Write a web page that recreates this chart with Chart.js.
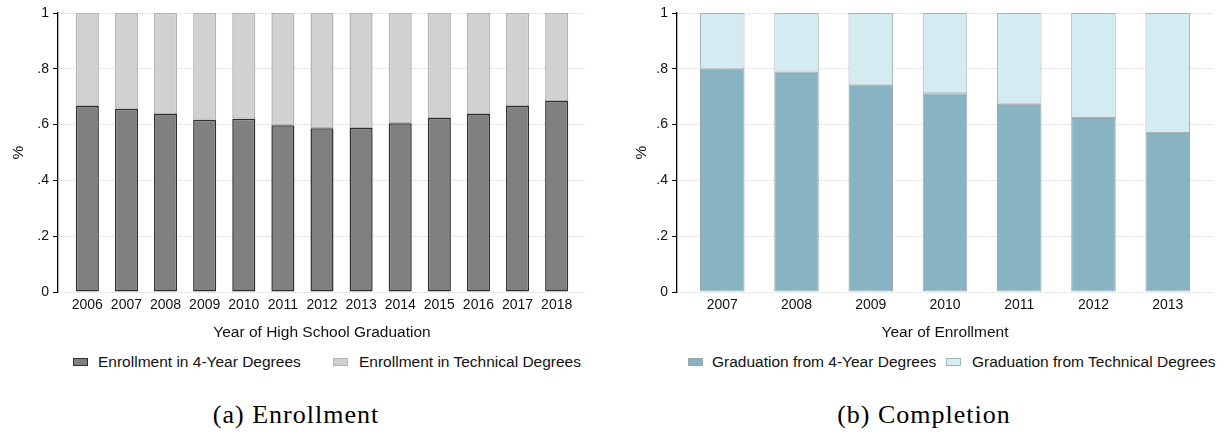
<!DOCTYPE html>
<html>
<head>
<meta charset="utf-8">
<script src="https://cdn.jsdelivr.net/npm/chart.js@4.4.1/dist/chart.umd.min.js"></script>
<style>
  html, body { margin: 0; padding: 0; background: #fff; }
  body { width: 1224px; height: 441px; position: relative; overflow: hidden; font-family: "Liberation Sans", Arial, sans-serif; }
  .panel { position: absolute; top: 0; }
  .legend-box { position: absolute; width: 13px; height: 6px; border: 1px solid; }
  .legend-text { position: absolute; font-size: 15.5px; line-height: 20px; color: #111; white-space: nowrap; }
  .caption { position: absolute; top: 400px; width: 300px; text-align: center; font-family: "Liberation Serif", serif; font-size: 26px; letter-spacing: 1px; color: #000; }
</style>
</head>
<body>
<canvas id="enroll-chart" class="panel" width="612" height="345" style="left:0"></canvas>
<canvas id="compl-chart" class="panel" width="612" height="345" style="left:612px"></canvas>
<div id="enroll-legend"></div>
<div id="compl-legend"></div>
<div class="caption" style="left:146px">(a) Enrollment</div>
<div class="caption" style="left:774px">(b) Completion</div>
<script>
const enrollYears = [2006, 2007, 2008, 2009, 2010, 2011, 2012, 2013, 2014, 2015, 2016, 2017, 2018];
const enroll4yr = [0.667, 0.657, 0.638, 0.617, 0.621, 0.598, 0.587, 0.588, 0.605, 0.624, 0.638, 0.667, 0.685];
const enrollTech = [0.333, 0.343, 0.362, 0.383, 0.379, 0.402, 0.413, 0.412, 0.395, 0.376, 0.362, 0.333, 0.315];
const enrollLabels = ["Enrollment in 4-Year Degrees", "Enrollment in Technical Degrees"];

const complYears = [2007, 2008, 2009, 2010, 2011, 2012, 2013];
const compl4yr = [0.800, 0.790, 0.743, 0.712, 0.675, 0.624, 0.570];
const complTech = [0.200, 0.210, 0.257, 0.288, 0.325, 0.376, 0.430];
const complLabels = ["Graduation from 4-Year Degrees", "Graduation from Technical Degrees"];

const yTickLabels = ["0", ".2", ".4", ".6", ".8", "1"];

Chart.defaults.font.family = '"Liberation Sans", Arial, sans-serif';
Chart.defaults.color = "#111";

function buildChart(id, years, series, cfg) {
  const toPoints = vals => years.map((yr, i) => ({ x: yr, y: vals[i] }));
  return new Chart(document.getElementById(id), {
    type: "bar",
    data: {
      datasets: series.map(s => ({
        label: s.label,
        data: toPoints(s.values),
        backgroundColor: s.fill,
        borderColor: s.border,
        borderWidth: s.borderWidth,
        borderSkipped: false,
        categoryPercentage: 1,
        barPercentage: cfg.barPct,
      })),
    },
    options: {
      responsive: false,
      animation: false,
      layout: { padding: { top: 13, right: cfg.padRight, bottom: 0, left: 0 } },
      plugins: { legend: { display: false }, tooltip: { enabled: false } },
      scales: {
        x: {
          type: "linear",
          stacked: true,
          offset: false,
          min: years[0] - cfg.edge,
          max: years[years.length - 1] + cfg.edge,
          afterFit: s => { s.height = 53; },
          grid: { display: false, drawTicks: false, offset: false },
          border: { display: false },
          ticks: {
            stepSize: 1, includeBounds: false, autoSkip: false, maxRotation: 0,
            padding: 5, font: { size: 14 },
            callback: v => String(v),
          },
          title: { display: true, text: cfg.xTitle, font: { size: 15.5 }, padding: { top: 0, bottom: 3 } },
        },
        y: {
          stacked: true,
          min: 0,
          max: 1,
          afterFit: s => { s.width = cfg.yWidth; },
          grid: { color: "#c4c4c4", lineWidth: 1, tickLength: 5, tickColor: "#000", tickWidth: 1, tickBorderDash: [] },
          border: { display: true, color: "#000", width: 1.3, dash: [1, 2] },
          ticks: { stepSize: 0.2, padding: 4, font: { size: 14 }, callback: (v, i) => yTickLabels[i] },
          title: { display: true, text: "%", font: { size: 15.5 }, padding: { top: cfg.yTitlePad, bottom: 0 } },
        },
      },
    },
  });
}

function buildLegend(id, series, spots) {
  const holder = document.getElementById(id);
  series.forEach((s, i) => {
    const box = document.createElement("div");
    box.className = "legend-box";
    box.style.left = spots[i].box + "px";
    box.style.top = "358px";
    box.style.background = s.fill;
    box.style.borderColor = s.border;
    holder.appendChild(box);
    const txt = document.createElement("div");
    txt.className = "legend-text";
    txt.style.left = spots[i].text + "px";
    txt.style.top = "352px";
    txt.textContent = s.label;
    holder.appendChild(txt);
  });
}

const enrollSeries = [
  { label: enrollLabels[0], values: enroll4yr, fill: "#808080", border: "#2e2e2e", borderWidth: 1.5 },
  { label: enrollLabels[1], values: enrollTech, fill: "#d1d1d1", border: "#b2b2b2", borderWidth: 1.5 },
];
const complSeries = [
  { label: complLabels[0], values: compl4yr, fill: "#88b3c3", border: "#9fa6a9", borderWidth: 1 },
  { label: complLabels[1], values: complTech, fill: "#d5ebf2", border: "#a9b2b5", borderWidth: 1 },
];

buildChart("enroll-chart", enrollYears, enrollSeries, {
  barPct: 0.59, padRight: 26, edge: 0.75, yWidth: 58, yTitlePad: 9,
  xTitle: "Year of High School Graduation",
});
buildChart("compl-chart", complYears, complSeries, {
  barPct: 0.6, padRight: 11, edge: 0.61, yWidth: 65, yTitlePad: 20,
  xTitle: "Year of Enrollment",
});

buildLegend("enroll-legend", enrollSeries, [{ box: 73, text: 98 }, { box: 333, text: 359 }]);
buildLegend("compl-legend", complSeries, [{ box: 688, text: 712 }, { box: 946, text: 972 }]);
</script>
</body>
</html>
